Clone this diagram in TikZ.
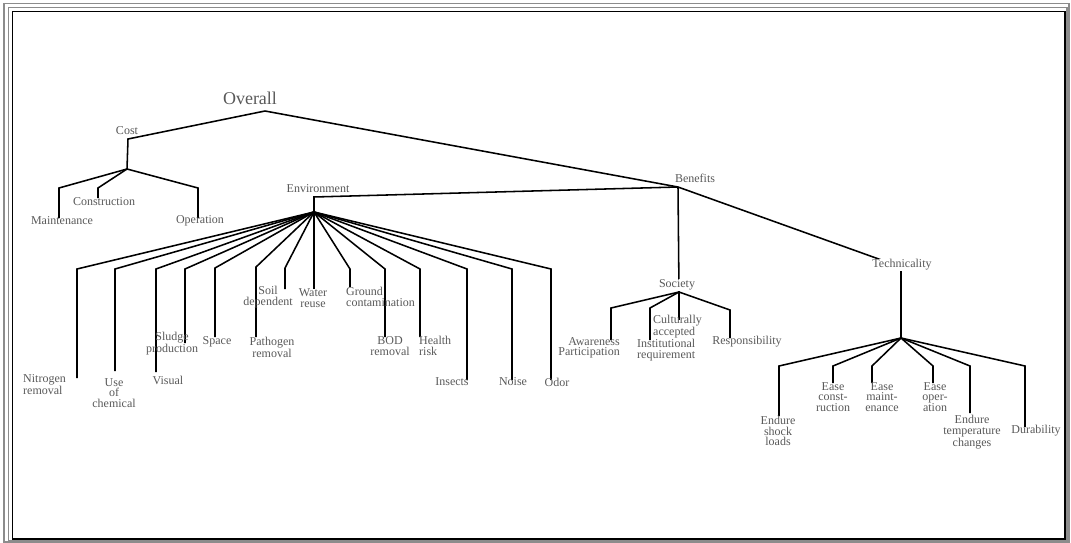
\documentclass[tikz,border=0pt]{standalone}
\usepackage{fontspec}
\setmainfont{Liberation Serif}
\begin{document}
\begin{tikzpicture}[x=1pt,y=-1pt,
  conn/.style={line width=1.55pt, line join=miter},
  lbl/.style={font=\fontsize{12}{10.5}\selectfont, text=black!65, inner sep=0pt, align=center},
  cover/.style={lbl, fill=white, inner sep=1pt},
  frameouter/.style={draw=black!45, line width=1.1pt},
  frameinner/.style={draw=black, line width=1.5pt}]
\useasboundingbox (0,0) rectangle (1071,543);
% frame
\draw[frameouter] (4,3.5) rectangle (1069,542);
\draw[frameouter] (8.5,7.5) rectangle (1067,540.5);
\draw[frameinner] (12.5,11.5) rectangle (1065,539);
% junction coordinates
\coordinate (ov) at (265,111);
\coordinate (costC) at (128,139);
\coordinate (costJ) at (127,169);
\coordinate (bj) at (678,187);
\coordinate (envTop) at (314,197);
\coordinate (envJ) at (314,212);
\coordinate (socJ) at (679,292);
\coordinate (techTop) at (901,267);
\coordinate (techJ) at (901,338);
% top level
\draw[conn] (ov) -- (costC) -- (costJ);
\draw[conn] (ov) -- (bj) -- (techTop) -- (techJ);
\draw[conn] (bj) -- (envTop) -- (envJ);
\draw[conn] (bj) -- (socJ);
% cost branches
\coordinate (maC) at (59,188); \coordinate (maE) at (59,218);
\coordinate (coC) at (98,188); \coordinate (coE) at (98,198);
\coordinate (opC) at (198,188); \coordinate (opE) at (198,218);
\foreach \b in {ma,co,op} \draw[conn] (costJ) -- (\b C) -- (\b E);
% environment branches
\coordinate (niC) at (77,269);  \coordinate (niE) at (77,378);
\coordinate (usC) at (115,269); \coordinate (usE) at (115,371);
\coordinate (viC) at (156,269); \coordinate (viE) at (156,372);
\coordinate (slC) at (185,269); \coordinate (slE) at (185,343);
\coordinate (spC) at (215,268); \coordinate (spE) at (215,337);
\coordinate (paC) at (256,267); \coordinate (paE) at (256,337);
\coordinate (soC) at (285,268); \coordinate (soE) at (285,289);
\coordinate (waC) at (314,240); \coordinate (waE) at (314,289);
\coordinate (grC) at (350,269); \coordinate (grE) at (350,287);
\coordinate (boC) at (385,269); \coordinate (boE) at (385,337);
\coordinate (heC) at (420,269); \coordinate (heE) at (420,337);
\coordinate (inC) at (467,269); \coordinate (inE) at (467,380);
\coordinate (noC) at (512,269); \coordinate (noE) at (512,380);
\coordinate (odC) at (551,269); \coordinate (odE) at (551,380);
\foreach \b in {ni,us,vi,sl,sp,pa,so,wa,gr,bo,he,in,no,od} \draw[conn] (envJ) -- (\b C) -- (\b E);
% society branches
\coordinate (awC) at (611,308); \coordinate (awE) at (611,340);
\coordinate (itC) at (650,308); \coordinate (itE) at (650,340);
\coordinate (cuC) at (679,305); \coordinate (cuE) at (679,320);
\coordinate (reC) at (730,310); \coordinate (reE) at (730,338);
\foreach \b in {aw,it,cu,re} \draw[conn] (socJ) -- (\b C) -- (\b E);
% technicality branches
\coordinate (esC) at (779,366); \coordinate (esE) at (779,416);
\coordinate (ecC) at (833,366); \coordinate (ecE) at (833,383);
\coordinate (emC) at (872,366); \coordinate (emE) at (872,383);
\coordinate (eoC) at (933,366); \coordinate (eoE) at (933,383);
\coordinate (etC) at (970,366); \coordinate (etE) at (970,413);
\coordinate (duC) at (1025,366); \coordinate (duE) at (1025,427);
\foreach \b in {es,ec,em,eo,et,du} \draw[conn] (techJ) -- (\b C) -- (\b E);
% labels
\node[lbl, font=\fontsize{18}{18}\selectfont] (overall) at (250,98) {Overall};
\node[cover] (cost) at (127,131) {Cost};
\node[cover] (benefits) at (695,178) {Benefits};
\node[cover] (env) at (318,189) {Environment};
\node[cover] (society) at (677,285) {Society};
\node[cover] (tech) at (902,265) {Technicality};
\node[lbl] (maint) at (62,221) {Maintenance};
\node[lbl] (constr) at (104,202) {Construction};
\node[lbl] (oper) at (200,221) {Operation};
\node[lbl, anchor=west, align=left] (nitro) at (23,385) {Nitrogen\\removal};
\node[lbl] (usechem) at (114,393) {Use\\of\\chemical};
\node[lbl] (visual) at (168,380) {Visual};
\node[lbl] (sludge) at (172,344) {Sludge\\production};
\node[lbl] (space) at (217,342) {Space};
\node[lbl] (patho) at (272,347) {Pathogen\\removal};
\node[lbl] (soil) at (268,297) {Soil\\dependent};
\node[lbl] (water) at (313,298) {Water\\reuse};
\node[lbl, anchor=west, align=left] (ground) at (346,297) {Ground\\contamination};
\node[lbl] (bod) at (390,346) {BOD\\removal};
\node[lbl, anchor=west, align=left] (health) at (419,346) {Health\\risk};
\node[lbl] (insects) at (452,382) {Insects};
\node[lbl] (noise) at (513,382) {Noise};
\node[lbl] (odor) at (557,382) {Odor};
\node[lbl, anchor=east, align=right] (aware) at (620,348) {Awareness\\Participation};
\node[lbl, anchor=west, align=left] (instit) at (637,350) {Institutional\\requirement};
\node[lbl, anchor=west, align=left] (cultur) at (653,327) {Culturally\\accepted};
\node[lbl] (respons) at (747,342) {Responsibility};
\node[lbl] (shock) at (778,431) {Endure\\shock\\loads};
\node[lbl] (easec) at (833,397) {Ease\\const-\\ruction};
\node[lbl] (easem) at (882,397) {Ease\\maint-\\enance};
\node[lbl] (easeo) at (935,397) {Ease\\oper-\\ation};
\node[lbl] (temp) at (972,432) {Endure\\temperature\\changes};
\node[lbl] (durab) at (1036,431) {Durability};
\end{tikzpicture}
\end{document}
